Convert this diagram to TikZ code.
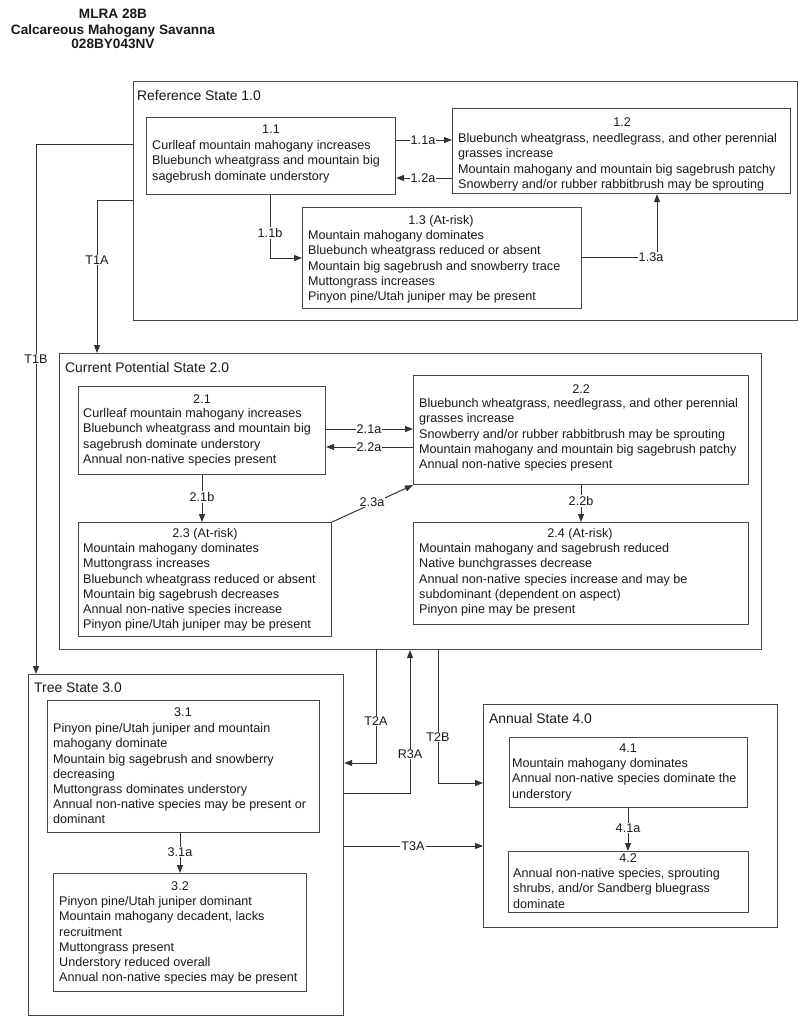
\documentclass[tikz,border=0pt]{standalone}
\usepackage{fontspec}
\setmainfont{Liberation Sans}
\usetikzlibrary{arrows.meta}
\newcommand\bxfont{\fontsize{12.6}{15.2}\selectfont}
\newcommand\stfont{\fontsize{13.9}{16}\selectfont}
\newcommand\hdfont{\fontsize{13.6}{15}\selectfont\bfseries}
\tikzset{
  box/.style={draw=black!72, line width=1.1pt, inner sep=0pt, anchor=north west, rectangle},
  txt/.style={inner sep=0pt, anchor=north west, align=left, font=\bxfont, text=black!90},
  ttl/.style={inner sep=0pt, anchor=base, font=\bxfont, text=black!90},
  stl/.style={inner sep=0pt, anchor=base west, font=\stfont, text=black!90},
  hd/.style={inner sep=0pt, anchor=base, font=\hdfont, text=black!90},
  lbl/.style={fill=white, inner sep=1pt, font=\bxfont, text=black!90},
  arr/.style={-{Triangle[length=8pt,width=6pt]}, line width=1pt, draw=black!80},
}
\newcommand\mkbox[5]{\node[box, minimum width={#4-#2}, minimum height={#5-#3}] (#1) at (#2,#3) {};}
\newcommand\mktxt[4]{\node[txt] (#1) at (#2,#3-11) {\rule{0pt}{11pt}#4};}
\begin{document}
\begin{tikzpicture}[x=1pt,y=-1pt]
\useasboundingbox (0,0) rectangle (800,1017);
% heading
\node[hd] (h1) at (113,18) {MLRA 28B};
\node[hd] (h2) at (113,34) {Calcareous Mahogany Savanna};
\node[hd] (h3) at (113,48) {028BY043NV};
% state boxes
\mkbox{s1}{133}{81}{797}{320}
\node[stl] (st1) at (137,100) {Reference State 1.0};
\mkbox{s2}{59}{353}{761}{649}
\node[stl] (st2) at (65,372) {Current Potential State 2.0};
\mkbox{s3}{28}{674}{343}{1015}
\node[stl] (st3) at (34,692) {Tree State 3.0};
\mkbox{s4}{483}{704}{777}{927}
\node[stl] (st4) at (489,723) {Annual State 4.0};
% community boxes
\mkbox{b11}{146}{117}{395}{194}
\node[ttl] (n11) at (271,133.5) {1.1};
\mktxt{t11}{152}{149.5}{Curlleaf mountain mahogany increases\\Bluebunch wheatgrass and mountain big\\sagebrush dominate understory}
\mkbox{b12}{452}{108}{790}{193}
\node[ttl] (n12) at (622,126.5) {1.2};
\mktxt{t12}{458}{142.5}{Bluebunch wheatgrass, needlegrass, and other perennial\\grasses increase\\Mountain mahogany and mountain big sagebrush patchy\\Snowberry and/or rubber rabbitbrush may be sprouting}
\mkbox{b13}{302}{207}{581}{308}
\node[ttl] (n13) at (441,224.5) {1.3 (At-risk)};
\mktxt{t13}{308}{239.5}{Mountain mahogany dominates\\Bluebunch wheatgrass reduced or absent\\Mountain big sagebrush and snowberry trace\\Muttongrass increases\\Pinyon pine/Utah juniper may be present}
\mkbox{b21}{78}{386}{325}{474}
\node[ttl] (n21) at (202,403.5) {2.1};
\mktxt{t21}{83}{417.5}{Curlleaf mountain mahogany increases\\Bluebunch wheatgrass and mountain big\\sagebrush dominate understory\\Annual non-native species present}
\mkbox{b22}{413}{375}{748}{484}
\node[ttl] (n22) at (581,393.5) {2.2};
\mktxt{t22}{419}{407.5}{Bluebunch wheatgrass, needlegrass, and other perennial\\grasses increase\\Snowberry and/or rubber rabbitbrush may be sprouting\\Mountain mahogany and mountain big sagebrush patchy\\Annual non-native species present}
\mkbox{b23}{78}{522}{331}{636}
\node[ttl] (n23) at (205,537.5) {2.3 (At-risk)};
\mktxt{t23}{83}{552.5}{Mountain mahogany dominates\\Muttongrass increases\\Bluebunch wheatgrass reduced or absent\\Mountain big sagebrush decreases\\Annual non-native species increase\\Pinyon pine/Utah juniper may be present}
\mkbox{b24}{413}{522}{748}{624}
\node[ttl] (n24) at (580,537.5) {2.4 (At-risk)};
\mktxt{t24}{419}{552.5}{Mountain mahogany and sagebrush reduced\\Native bunchgrasses decrease\\Annual non-native species increase and may be\\subdominant (dependent on aspect)\\Pinyon pine may be present}
\mkbox{b31}{47}{700}{319}{832}
\node[ttl] (n31) at (183,716.5) {3.1};
\mktxt{t31}{53}{732.5}{Pinyon pine/Utah juniper and mountain\\mahogany dominate\\Mountain big sagebrush and snowberry\\decreasing\\Muttongrass dominates understory\\Annual non-native species may be present or\\dominant}
\mkbox{b32}{53}{873}{306}{991}
\node[ttl] (n32) at (180,890.5) {3.2};
\mktxt{t32}{59}{905.5}{Pinyon pine/Utah juniper dominant\\Mountain mahogany decadent, lacks\\recruitment\\Muttongrass present\\Understory reduced overall\\Annual non-native species may be present}
\mkbox{b41}{509}{737}{747}{807}
\node[ttl] (n41) at (628,752.5) {4.1};
\mktxt{t41}{512}{767.5}{Mountain mahogany dominates\\Annual non-native species dominate the\\understory}
\mkbox{b42}{508}{851}{748}{912}
\node[ttl] (n42) at (628,862.5) {4.2};
\mktxt{t42}{513}{877.5}{Annual non-native species, sprouting\\shrubs, and/or Sandberg bluegrass\\dominate}
% connectors state 1
\draw[arr] (b11.east |- 0,140) -- (b12.west |- 0,140);
\node[lbl] (l11a) at (423,140) {1.1a};
\draw[arr] (b12.west |- 0,178) -- (b11.east |- 0,178);
\node[lbl] (l12a) at (423,178) {1.2a};
\draw[arr] (b11.south -| 270,0) |- (b13.west |- 0,258);
\node[lbl] (l11b) at (270,233) {1.1b};
\draw[arr] (b13.east |- 0,257) -| (b12.south -| 657,0);
\node[lbl] (l13a) at (651,257) {1.3a};
% transitions from state 1
\draw[arr] (s1.west |- 0,200) -| (s2.north -| 97,0);
\node[lbl] (lT1A) at (97,260) {T1A};
\draw[arr] (s1.west |- 0,144) -| (s3.north -| 36,0);
\node[lbl] (lT1B) at (36,359) {T1B};
% connectors state 2
\draw[arr] (b21.east |- 0,429) -- (b22.west |- 0,429);
\node[lbl] (l21a) at (369,429) {2.1a};
\draw[arr] (b22.west |- 0,447) -- (b21.east |- 0,447);
\node[lbl] (l22a) at (369,447) {2.2a};
\draw[arr] (b21.south -| 202,0) -- (b23.north -| 202,0);
\node[lbl] (l21b) at (202,497) {2.1b};
\draw[arr] (b23.north east) -- (b22.south west);
\node[lbl] (l23a) at (372,502) {2.3a};
\draw[arr] (b22.south -| 581,0) -- (b24.north -| 581,0);
\node[lbl] (l22b) at (581,501) {2.2b};
% transitions between states
\draw[arr] (s2.south -| 376,0) |- (s3.east |- 0,763);
\node[lbl] (lT2A) at (376,721) {T2A};
\draw[arr] (s3.east |- 0,793) -| (s2.south -| 410,0);
\node[lbl] (lR3A) at (410,754) {R3A};
\draw[arr] (s2.south -| 438,0) |- (s4.west |- 0,783);
\node[lbl] (lT2B) at (438,737) {T2B};
\draw[arr] (s3.east |- 0,846) -- (s4.west |- 0,846);
\node[lbl] (lT3A) at (413,846) {T3A};
% connectors states 3 and 4
\draw[arr] (b31.south -| 180,0) -- (b32.north -| 180,0);
\node[lbl] (l31a) at (180,852) {3.1a};
\draw[arr] (b41.south -| 628,0) -- (b42.north -| 628,0);
\node[lbl] (l41a) at (628,828) {4.1a};
\end{tikzpicture}
\end{document}
